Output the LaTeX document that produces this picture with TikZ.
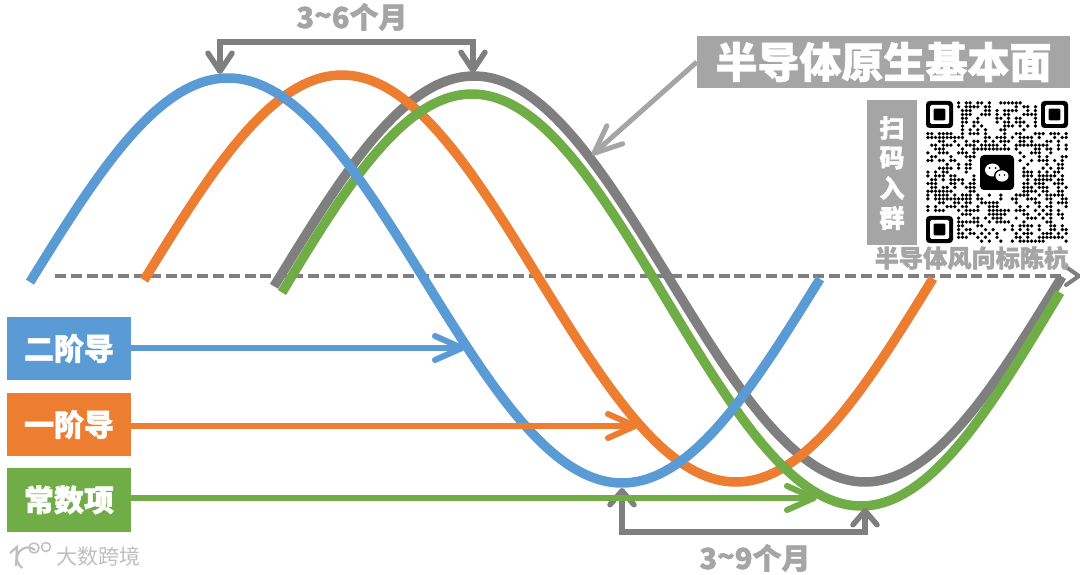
\documentclass[tikz,border=0pt]{standalone}
\usepackage{fontspec}
\setmainfont{Noto Sans CJK SC}[BoldFeatures={FakeBold=1.6}]
\usetikzlibrary{arrows.meta}
\definecolor{cblue}{HTML}{5B9BD5}
\definecolor{corange}{HTML}{ED7D31}
\definecolor{cgreen}{HTML}{70AD47}
\definecolor{cgray}{HTML}{7F7F7F}
\definecolor{clight}{HTML}{A5A5A5}
\tikzset{
  wave/.style={line width=9.5pt,line join=round},
  barb/.style={-{Straight Barb[length=#1,width=24pt,round]}},
  legendbox/.style={minimum width=124pt,minimum height=63pt,inner sep=0pt,text=white,font=\fontsize{30}{30}\selectfont\bfseries},
  grayarrow/.style={draw=cgray,line width=5.5pt,line join=round},
  sidechar/.style={text=white,inner sep=0pt,font=\fontsize{25}{25}\selectfont\bfseries},
  monthlabel/.style={text=clight,inner sep=0pt,font=\fontsize{29}{29}\selectfont\bfseries}
}
\newcommand{\finderat}[2]{%
  \fill[black,rounded corners=3.5pt] (#1,#2) rectangle ++(27,27);
  \fill[white,rounded corners=1.5pt] (#1+4,#2+4) rectangle ++(19,19);
  \fill[black,rounded corners=1pt] (#1+7.7,#2+7.7) rectangle ++(11.6,11.6);
}
\begin{document}
\begin{tikzpicture}[x=1pt,y=-1pt,line cap=butt]
\useasboundingbox (0,0) rectangle (1080,575);
\fill[white] (0,0) rectangle (1080,575);

% dashed axis
\coordinate (axisL) at (55,276);
\coordinate (axisR) at (1079,276);
\draw[draw=cgray,line width=4pt,dash pattern=on 11pt off 4.8pt] (axisL) -- (1066,276);
\draw[draw=cgray,line width=4pt,line cap=round,line join=round] (1066,267) -- (axisR) -- (1066,285);

% curves
\draw[wave,cgray,domain=274:1062,samples=160] plot (\x,{279-203*cos((\x-474)/782*360)});
\draw[wave,corange,domain=144:933,samples=160] plot (\x,{278.5-203.5*cos((\x-342)/788*360)});
\draw[wave,cgreen,domain=282:1060,samples=160] plot (\x,{300-206*cos((\x-472)/778*360)});
\draw[wave,cblue,domain=30:820,samples=160] plot (\x,{280.5-202.5*cos((\x-228)/788*360)});

% legend boxes
\node[legendbox,fill=cblue] (b2) at (69,348.5) {二阶导};
\node[legendbox,fill=corange] (b1) at (69,424.5) {一阶导};
\node[legendbox,fill=cgreen,minimum height=64pt] (b0) at (69,500) {常数项};

\coordinate (t2) at (465,348);
\coordinate (t1) at (638,426);
\coordinate (t0) at (817,498);
\draw[cblue,line width=6pt,barb=27pt] (b2.east|-t2) -- (t2);
\draw[corange,line width=6pt,barb=27pt] (b1.east|-t1) -- (t1);

% 3~6 bracket
\coordinate (tA) at (220,74);
\coordinate (tB) at (473,73);
\draw[grayarrow] (217.3,42) -- (475.7,42);
\draw[grayarrow,barb=18pt] (220,40) -- (tA);
\draw[grayarrow,barb=18pt] (473,40) -- (tB);
\node[monthlabel] (m36) at (352,17) {3\raisebox{2pt}{\textasciitilde}6个月};

% 3~9 bracket
\coordinate (tC) at (622,488);
\coordinate (tD) at (865,508);
\draw[grayarrow] (619.3,532) -- (867.7,532);
\draw[grayarrow,barb=14pt] (622,534) -- (tC);
\draw[grayarrow,barb=14pt] (865,534) -- (tD);
\draw[cgreen,line width=6pt,barb=27pt] (b0.east|-t0) -- (t0);
\node[monthlabel] (m39) at (755,558) {3\raisebox{2pt}{\textasciitilde}9个月};

% big label
\node[fill=clight,minimum width=373pt,minimum height=52pt,inner sep=0pt,text=white,font=\fontsize{42}{42}\selectfont\bfseries] (big) at (883.5,62) {半导体原生基本面};
\coordinate (tE) at (592,155);
\draw[clight,line width=5pt,barb=28pt] (big.west) -- (tE);

% scan box
\node[fill=clight,minimum width=50pt,minimum height=145pt,inner sep=0pt] (scan) at (892,172.5) {};
\node[sidechar] (s1) at (892,128) {扫};
\node[sidechar] (s2) at (892,158) {码};
\node[sidechar] (s3) at (892,188) {入};
\node[sidechar] (s4) at (892,218) {群};

% QR code
\finderat{926}{101}
\finderat{1041}{101}
\finderat{926}{216}
\pgfmathsetseed{2024}
\foreach \i in {0,...,36}{
  \foreach \j in {0,...,36}{
    \pgfmathsetmacro{\r}{rnd}
    \pgfmathtruncatemacro{\keep}{
      (\r<0.52)
      && !(\i<8 && \j<8) && !(\i>28 && \j<8) && !(\i<8 && \j>28)
      && !(\i>=13 && \i<=23 && \j>=13 && \j<=23)}
    \ifnum\keep=1
      \fill[black] (926+3.84*\i+1.92,101+3.84*\j+1.92) circle (1.85pt);
    \fi
  }
}
\fill[black,rounded corners=4pt] (980,155) rectangle (1014,190);
\fill[white] (992.5,170) ellipse (7.5pt and 6.5pt);
\fill[black] (1002,176) ellipse (8pt and 7pt);
\fill[white] (1002,176) ellipse (6.5pt and 5.6pt);
\fill[black] (989.5,168) circle (1pt) (995.5,168) circle (1pt) (999.5,175) circle (.8pt) (1004.5,175) circle (.8pt);

\node[text=clight,inner sep=0pt,font=\fontsize{24.2}{24.2}\selectfont\bfseries] (author) at (971.5,258) {半导体风向标陈杭};

% watermark
\node[text=black!25,inner sep=0pt,font=\fontsize{21}{21}\selectfont] (wm) at (98.5,556) {大数跨境};
\draw[black!25,line width=2.2pt] (10,553) -- (17,547) -- (16,566);
\draw[black!25,line width=2.2pt] (35,550) arc (50:240:11pt);
\draw[black!25,line width=1.5pt] (34,548) circle (5pt) (46,547) circle (4.5pt);
\end{tikzpicture}
\end{document}
